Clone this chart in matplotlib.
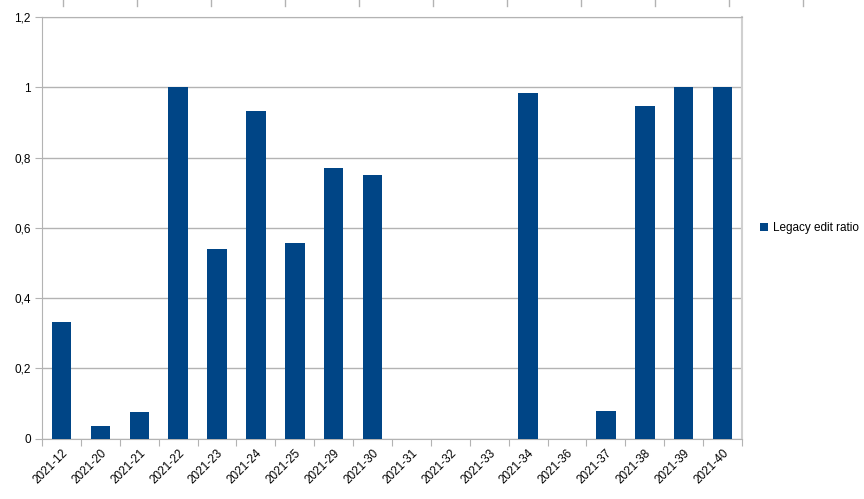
import numpy as np
import matplotlib.pyplot as plt
from matplotlib.ticker import FixedLocator, FuncFormatter
from matplotlib.lines import Line2D

weeks = ["2021-12", "2021-20", "2021-21", "2021-22", "2021-23", "2021-24", "2021-25",
         "2021-29", "2021-30", "2021-31", "2021-32", "2021-33", "2021-34", "2021-36",
         "2021-37", "2021-38", "2021-39", "2021-40"]
ratio = [0.333, 0.036, 0.076, 1.0, 0.54, 0.932, 0.557, 0.77, 0.75, 0, 0, 0,
         0.984, 0, 0.079, 0.947, 1.0, 1.0]

plt.rcParams['font.family'] = ['Liberation Sans', 'DejaVu Sans']
W, H = 864, 499
fig = plt.figure(figsize=(W / 100, H / 100), dpi=100)
ax = fig.add_axes([42 / W, 1 - 438.7 / H, 700 / W, 421.7 / H])

x = np.arange(len(weeks))
ax.bar(x, ratio, width=0.5, color='#004586', label='Legacy edit ratio', zorder=3)

ax.set_xlim(-0.5, len(weeks) - 0.5)
ax.set_ylim(0, 1.2)
ax.set_yticks(np.arange(0, 1.21, 0.2))
ax.yaxis.set_major_formatter(FuncFormatter(
    lambda v, p: ('%g' % round(v, 1)).replace('.', ',')))
ax.yaxis.grid(True, color='#b3b3b3', linewidth=1, zorder=0)
ax.tick_params(axis='y', length=5, color='#b3b3b3', labelsize=8.5, pad=3)

ax.xaxis.set_major_locator(FixedLocator(np.arange(-0.5, len(weeks), 1)))
ax.xaxis.set_major_formatter(FuncFormatter(lambda v, p: ''))
ax.xaxis.set_minor_locator(FixedLocator(x))
ax.set_xticklabels(weeks, minor=True, rotation=45, ha='right', rotation_mode='anchor')
ax.tick_params(axis='x', which='major', length=5, color='#b3b3b3')
ax.tick_params(axis='x', which='minor', length=0, labelsize=8.5, pad=6)

for s in ['left', 'bottom', 'top']:
    ax.spines[s].set_color('#b3b3b3')
ax.spines['right'].set_color('#d0d0d0')
ax.spines['right'].set_linewidth(1.5)

ax.legend(loc='center left', bbox_to_anchor=(1.01, 0.5), frameon=False,
          fontsize=8.5, handlelength=0.7, handleheight=0.7, handletextpad=0.4)

# small marks along the top edge
for px in range(63, W, 74):
    fig.add_artist(Line2D([px / W, px / W], [1, 1 - 6 / H], transform=fig.transFigure,
                          color='#b3b3b3', linewidth=1))

fig.savefig('out.png', dpi=100)
